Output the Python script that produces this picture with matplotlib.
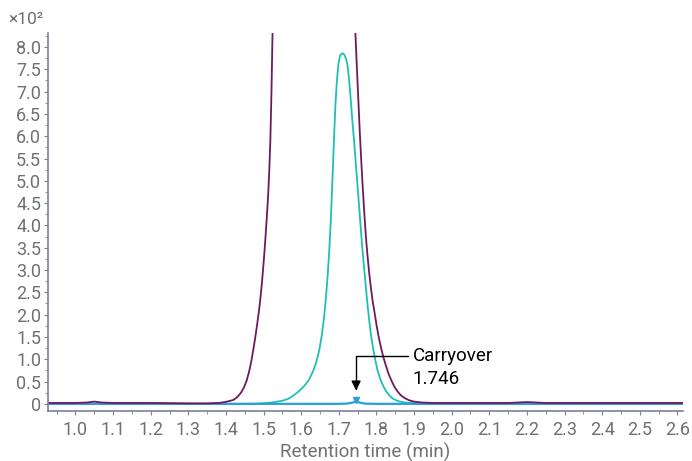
import matplotlib
matplotlib.use('Agg')
import matplotlib.pyplot as plt
from matplotlib.ticker import MultipleLocator

plt.rcParams['font.family'] = ['Roboto', 'DejaVu Sans']

# sample trace (purple), goes off scale
purple_t = [0.93, 1.00, 1.03, 1.05, 1.07, 1.10, 1.20, 1.30, 1.35, 1.38, 1.39, 1.40,
            1.41, 1.42, 1.43, 1.44, 1.448, 1.455, 1.462, 1.468, 1.474, 1.479, 1.484,
            1.488, 1.492, 1.496, 1.500, 1.504, 1.508, 1.512, 1.515, 1.518, 1.521,
            1.524, 1.527, 1.741, 1.744, 1.748, 1.752, 1.756, 1.760, 1.764, 1.768,
            1.772, 1.776, 1.780, 1.785, 1.790, 1.795, 1.800, 1.806, 1.812, 1.818,
            1.825, 1.832, 1.840, 1.848, 1.856, 1.865, 1.875, 1.887, 1.900, 1.920,
            1.950, 2.00, 2.15, 2.20, 2.25, 2.615]
purple_v = [0.02, 0.02, 0.03, 0.05, 0.03, 0.02, 0.02, 0.01, 0.01, 0.02, 0.03, 0.045,
            0.065, 0.09, 0.15, 0.25, 0.37, 0.52, 0.74, 0.98, 1.28, 1.55, 1.85,
            2.10, 2.40, 2.75, 3.15, 3.60, 4.10, 4.65, 5.20, 5.90, 7.00,
            8.40, 10.0, 10.0, 8.32, 7.55, 6.80, 6.05, 5.40, 4.80, 4.25,
            3.75, 3.35, 3.00, 2.62, 2.30, 2.05, 1.78, 1.50, 1.27, 1.06,
            0.86, 0.68, 0.52, 0.38, 0.28, 0.19, 0.13, 0.08, 0.05, 0.03,
            0.02, 0.02, 0.02, 0.04, 0.02, 0.02]

# standard trace (teal)
teal_t = [0.93, 1.45, 1.48, 1.51, 1.53, 1.55, 1.565, 1.58, 1.595, 1.61, 1.62, 1.63,
          1.64, 1.648, 1.655, 1.661, 1.666, 1.671, 1.675, 1.679, 1.683, 1.687, 1.691,
          1.695, 1.699, 1.703, 1.707, 1.711, 1.715, 1.719, 1.723, 1.727, 1.731, 1.736,
          1.741, 1.746, 1.751, 1.756, 1.761, 1.766, 1.771, 1.776, 1.781, 1.786, 1.791,
          1.797, 1.803, 1.810, 1.818, 1.826, 1.835, 1.845, 1.858, 1.875, 1.900, 1.940,
          2.00, 2.615]
teal_v = [0.0, 0.0, 0.005, 0.02, 0.04, 0.07, 0.11, 0.19, 0.29, 0.42, 0.53, 0.70,
          0.93, 1.20, 1.55, 1.95, 2.40, 2.95, 3.50, 4.15, 5.00, 5.90, 6.70,
          7.25, 7.62, 7.80, 7.85, 7.86, 7.82, 7.74, 7.60, 7.30, 6.90, 6.35,
          5.85, 5.30, 4.75, 4.20, 3.65, 3.15, 2.70, 2.25, 1.86, 1.52, 1.25,
          0.98, 0.75, 0.56, 0.40, 0.28, 0.18, 0.11, 0.06, 0.03, 0.015, 0.005,
          0.0, 0.0]

# blank injection (blue) with carryover peak
blank_t = [0.93, 1.70, 1.72, 1.735, 1.746, 1.757, 1.77, 1.80, 2.615]
blank_v = [0.0, 0.0, 0.005, 0.025, 0.05, 0.025, 0.005, 0.0, 0.0]

carry_t = 1.746
carry_v = 0.05

y_ticks = [0, 0.5, 1.0, 1.5, 2.0, 2.5, 3.0, 3.5, 4.0, 4.5, 5.0, 5.5, 6.0, 6.5, 7.0, 7.5, 8.0]
y_labels = ['0'] + ['%.1f' % v for v in y_ticks[1:]]
x_ticks = [1.0, 1.1, 1.2, 1.3, 1.4, 1.5, 1.6, 1.7, 1.8, 1.9, 2.0, 2.1, 2.2, 2.3, 2.4, 2.5, 2.6]

grey = '#6f7073'
spine_col = '#7a7f9c'

fig = plt.figure(figsize=(6.92, 4.61), dpi=100)
ax = fig.add_axes([0.0694, 0.1085, 0.9176, 0.8195])

ax.plot(teal_t, teal_v, color='#1fbfb5', lw=1.3)
ax.plot(blank_t, blank_v, color='#2a9fd8', lw=1.6)
ax.plot(purple_t, purple_v, color='#6e1a5e', lw=1.3)
ax.plot([carry_t], [carry_v + 0.03], marker='v', color='#2a9fd8', ms=4, ls='none')

ax.set_xlim(0.927, 2.615)
ax.set_ylim(-0.16, 8.31)

ax.set_xticks(x_ticks)
ax.set_xticklabels(['%.1f' % t for t in x_ticks])
ax.set_yticks(y_ticks)
ax.set_yticklabels(y_labels)
ax.xaxis.set_minor_locator(MultipleLocator(0.05))
ax.yaxis.set_minor_locator(MultipleLocator(0.25))

for s in ['top', 'right']:
    ax.spines[s].set_visible(False)
for s in ['left', 'bottom']:
    ax.spines[s].set_color(spine_col)
    ax.spines[s].set_linewidth(1.2)

ax.tick_params(axis='both', which='major', length=3, width=0.8, color=spine_col,
               labelsize=13, labelcolor=grey)
ax.tick_params(axis='both', which='minor', length=2, width=0.6, color=spine_col)
ax.tick_params(axis='x', which='major', pad=4)
ax.tick_params(axis='y', which='major', pad=2)

ax.set_xlabel('Retention time (min)', fontsize=13.5, color=grey, labelpad=3)
fig.text(0.012, 0.957, '×10²', fontsize=12.5, color=grey, va='center', ha='left')

# carryover annotation
ax.annotate('', xy=(carry_t, 0.30), xytext=(1.885, 1.08),
            arrowprops=dict(arrowstyle='-|>', color='black', lw=1.0, mutation_scale=14,
                            shrinkA=0, shrinkB=0,
                            connectionstyle='angle,angleA=0,angleB=90,rad=0'))
ax.text(1.897, 1.08, 'Carryover', fontsize=13.5, color='black', va='center', ha='left')
ax.text(1.897, 0.55, '%.3f' % carry_t, fontsize=13.5, color='black', va='center', ha='left')

fig.savefig('out.png', dpi=100)
